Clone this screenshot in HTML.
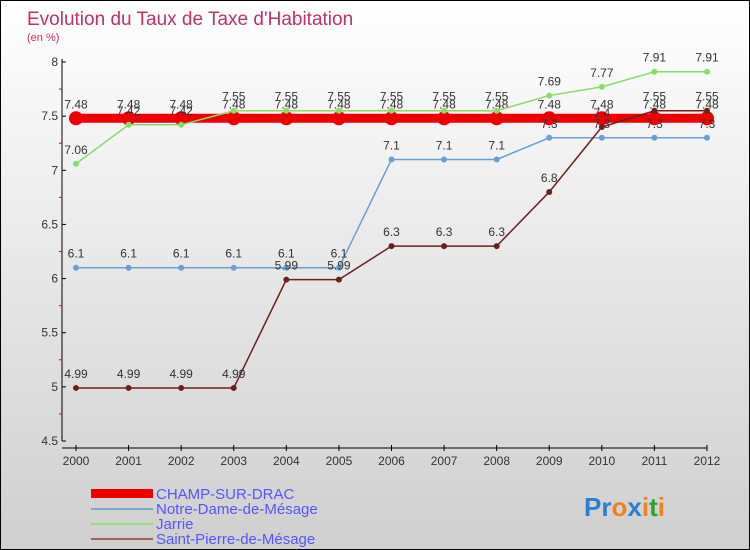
<!DOCTYPE html>
<html><head><meta charset="utf-8"><style>
body{margin:0;}
#c{width:750px;height:550px;position:relative;box-sizing:border-box;border:1px solid #000;background:linear-gradient(#ffffff,#cfcfcf);font-family:"Liberation Sans",sans-serif;overflow:hidden}
</style></head><body>
<div id="c">
<svg width="748" height="548" id="s" style="position:absolute;left:0;top:0">
<text x="26" y="24" font-size="19" fill="#c0306a">Evolution du Taux de Taxe d'Habitation</text>
<text x="26" y="40" font-size="11" fill="#c0306a">(en %)</text>
<g id="axes"></g><g id="series"></g>
<g font-size="15" fill="#5555ff">
<rect x="90" y="488" width="62" height="9" fill="#e00"/>
<text x="155" y="498">CHAMP-SUR-DRAC</text>
<rect x="90" y="507" width="62" height="2" fill="#7aaad0"/>
<text x="155" y="513">Notre-Dame-de-Mésage</text>
<rect x="90" y="522" width="62" height="2" fill="#99dd77"/>
<text x="155" y="528">Jarrie</text>
<rect x="90" y="537" width="62" height="2" fill="#a06060"/>
<text x="155" y="543">Saint-Pierre-de-Mésage</text>
</g>
<g font-size="26" font-weight="bold">
<text x="583" y="515"><tspan fill="#2a7fd0">Pr</tspan><tspan fill="#f08020">o</tspan><tspan fill="#2a7fd0">x</tspan><tspan fill="#f08020">i</tspan><tspan fill="#30a030">t</tspan><tspan fill="#f08020">i</tspan></text>
</g>
</svg>
</div>
<script>
const years=[2000,2001,2002,2003,2004,2005,2006,2007,2008,2009,2010,2011,2012];
const yTicks=[4.5,5,5.5,6,6.5,7,7.5,8];
const champ=[7.48,7.48,7.48,7.48,7.48,7.48,7.48,7.48,7.48,7.48,7.48,7.48,7.48];
const notre=[6.1,6.1,6.1,6.1,6.1,6.1,7.1,7.1,7.1,7.3,7.3,7.3,7.3];
const jarrie=[7.06,7.42,7.42,7.55,7.55,7.55,7.55,7.55,7.55,7.69,7.77,7.91,7.91];
const stp=[4.99,4.99,4.99,4.99,5.99,5.99,6.3,6.3,6.3,6.8,7.4,7.55,7.55];
const NS="http://www.w3.org/2000/svg";
const X=i=>75+i*(631/12);
const Y=v=>61+(8-v)*(379/3.5);
function mk(t,a,p){const e=document.createElementNS(NS,t);for(const k in a)e.setAttribute(k,a[k]);p.appendChild(e);return e;}
const ax=document.getElementById('axes');
const yAxis=mk('line',{x1:61,y1:58,x2:61,y2:440,stroke:'#000'},ax);


const xAxis=mk('line',{x1:61,y1:447,x2:706,y2:447,stroke:'#000'},ax);


yTicks.forEach(v=>{
  mk('line',{x1:61,y1:Y(v),x2:65,y2:Y(v),stroke:'#000'},ax);
  if(v<8)mk('line',{x1:58,y1:Y(v+0.25),x2:61,y2:Y(v+0.25),stroke:'#e00'},ax);
  const t=mk('text',{x:57,y:Y(v)+4,'font-size':12,fill:'#333','text-anchor':'end'},ax);t.textContent=v;
  
  
});
years.forEach((y,i)=>{
  mk('line',{x1:X(i),y1:444,x2:X(i),y2:450,stroke:'#000'},ax);
  const t=mk('text',{x:X(i),y:464,'font-size':12,fill:'#333','text-anchor':'middle'},ax);t.textContent=y;
  
  
});
const sg=document.getElementById('series');
function series(vals,color,w,r,name){
  const g=mk('g',{},sg);
  
  
  mk('polyline',{points:vals.map((v,i)=>X(i)+','+Y(v)).join(' '),fill:'none',stroke:color,'stroke-width':w},g);
  vals.forEach((v,i)=>{
    const c=mk('circle',{cx:X(i),cy:Y(v),r:r,fill:color},g);
    
    
    const t=mk('text',{x:X(i),y:Y(v)-10,'font-size':12,fill:'#333','text-anchor':'middle'},g);t.textContent=v;
    
    
  });
}
series(champ,'#ee0000',9,7,'series-champ');
series(notre,'#6a9fcf',1.5,3,'series-notre-dame');
series(jarrie,'#88dd66',1.5,3,'series-jarrie');
series(stp,'#6b2020',1.5,3,'series-saint-pierre');
</script>
</body></html>
